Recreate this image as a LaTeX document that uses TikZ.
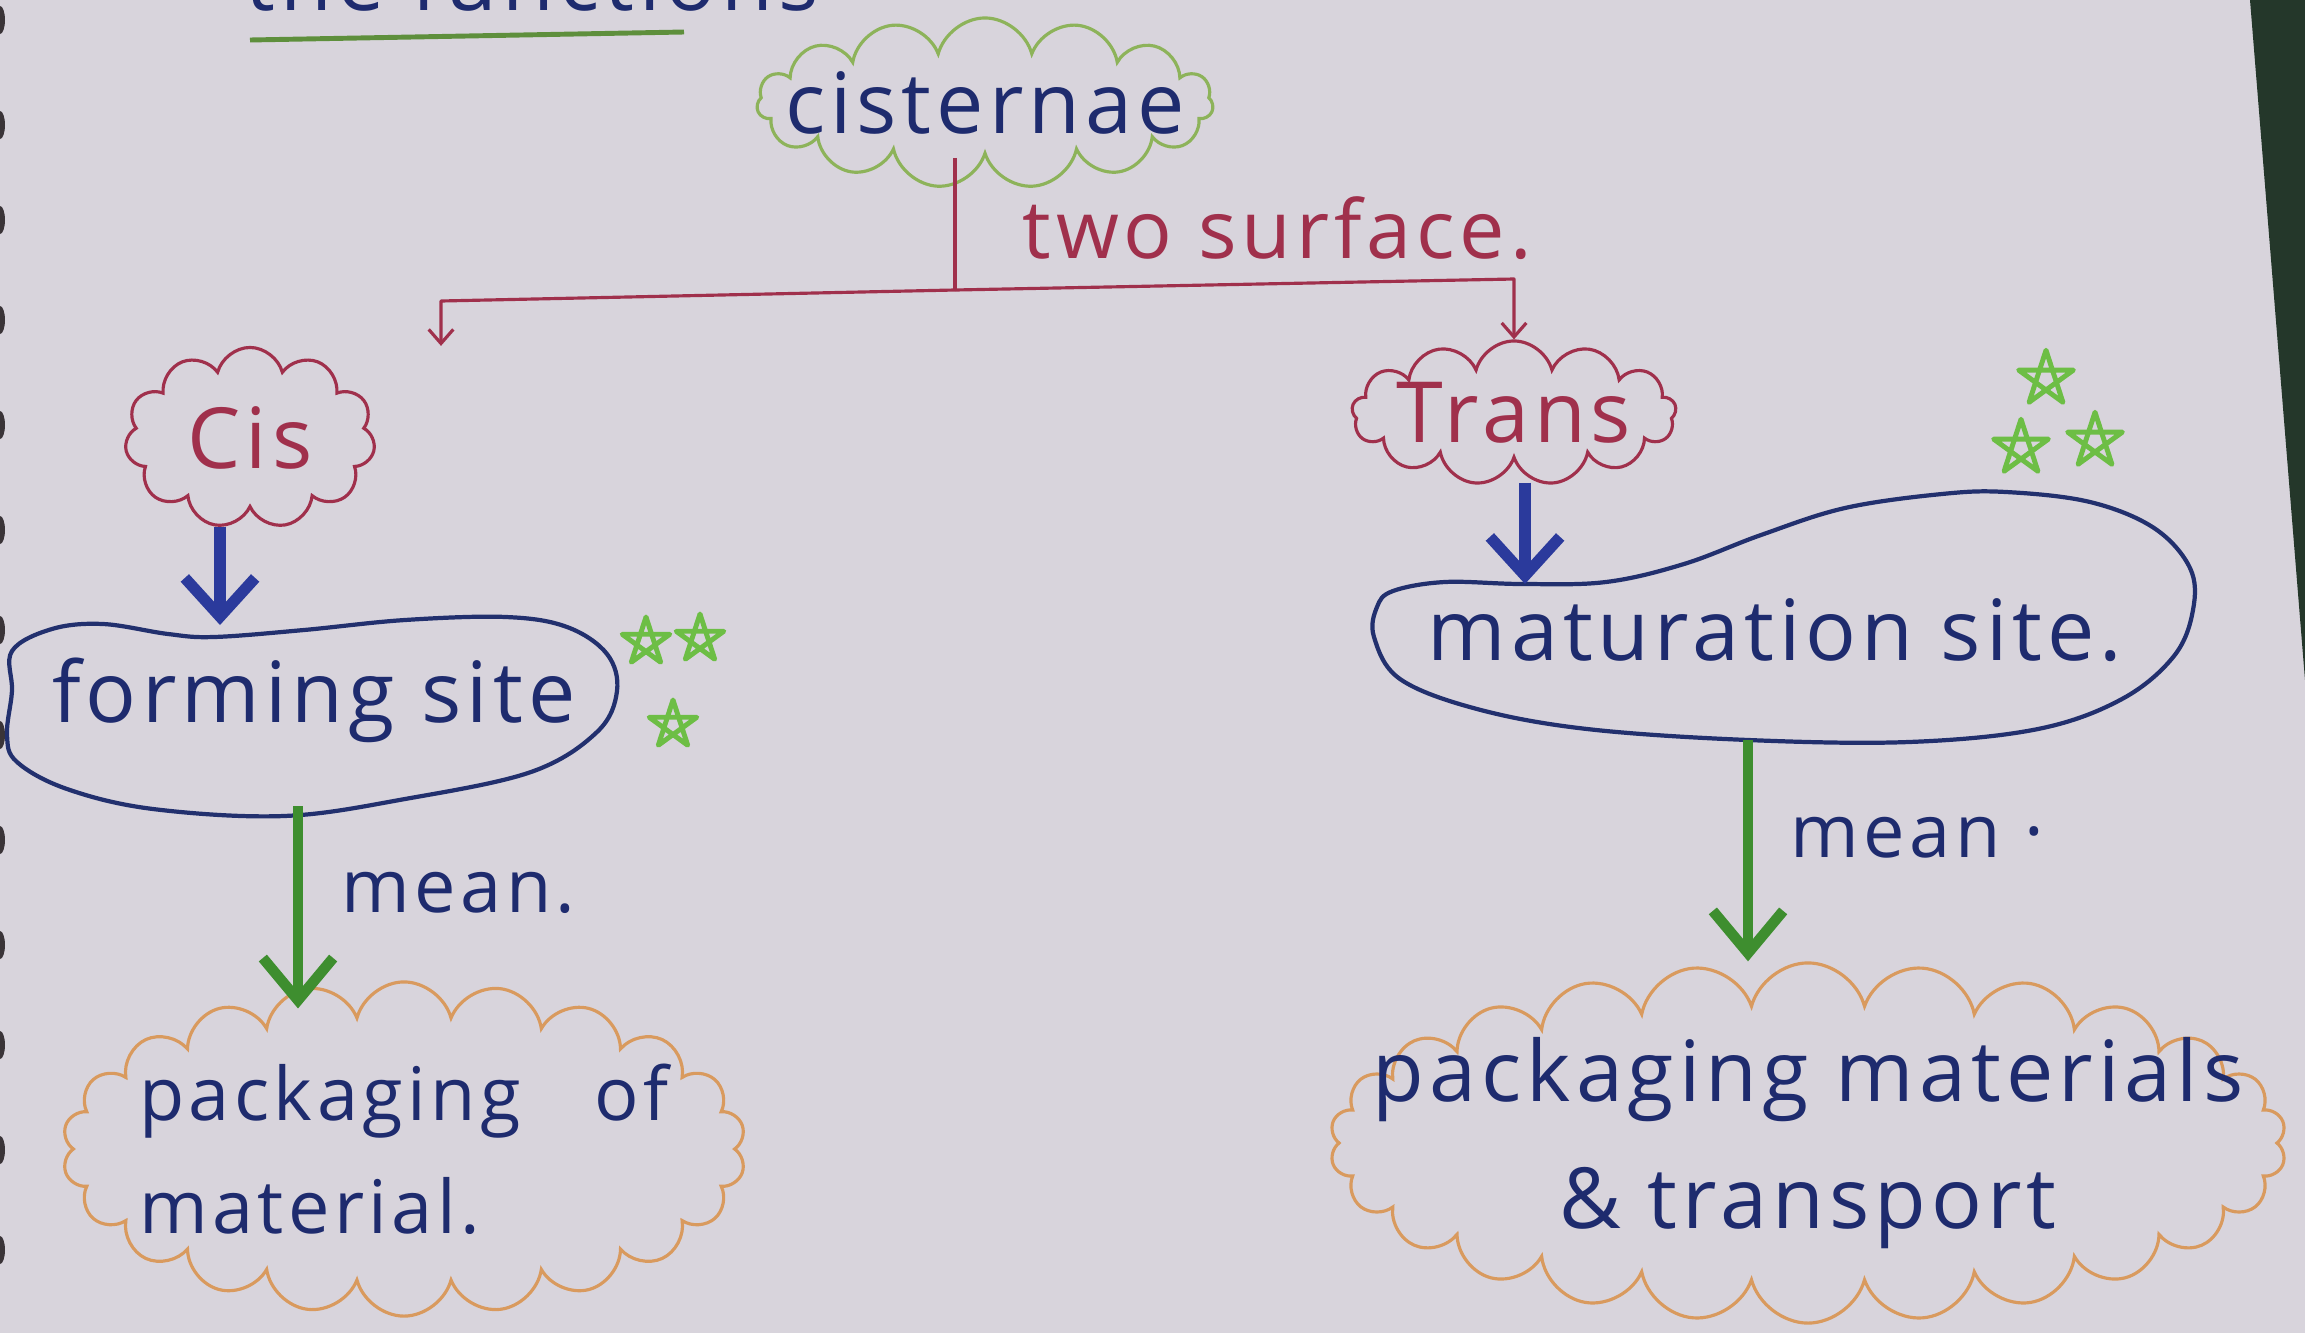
\documentclass[tikz,border=0pt]{standalone}
\usepackage{fontspec}
\setmainfont{Open Sans}[LetterSpace=6]
\usetikzlibrary{shapes.symbols,arrows.meta}

\definecolor{paper}{HTML}{D8D4DC}
\definecolor{ink}{HTML}{1E2B6E}
\definecolor{crimson}{HTML}{A0304C}
\definecolor{leaf}{HTML}{8DB35A}
\definecolor{underlinegreen}{HTML}{5E8F3C}
\definecolor{grass}{HTML}{3E8E2F}
\definecolor{starg}{HTML}{6DBE45}
\definecolor{peach}{HTML}{D99A5E}
\definecolor{pen}{HTML}{22306E}
\definecolor{royal}{HTML}{2B3A9C}
\definecolor{binding}{HTML}{3A3438}
\definecolor{backdrop}{HTML}{24372A}

\tikzset{
  puff/.style={cloud, cloud ignores aspect, draw, inner sep=0pt, line width=0.9pt},
  handtext/.style={font=\fontsize{24}{36}\selectfont, text=ink, inner sep=0pt},
  smallhand/.style={handtext, font=\fontsize{21}{32}\selectfont},
  blueflow/.style={draw=royal, line width=3.2pt, -{Straight Barb[length=11pt,width=20pt]}},
  greenflow/.style={draw=grass, line width=3pt, -{Straight Barb[length=12pt,width=20pt]}},
  redlink/.style={draw=crimson, line width=0.9pt, line join=round},
  redtip/.style={-{Straight Barb[length=4pt,width=7pt]}},
  blob/.style={draw=pen, line width=1.2pt},
  starmark/.pic={\draw[starg, line width=1.4pt, line join=round]
    (90:0.25cm) -- (234:0.25cm) -- (18:0.25cm) -- (162:0.25cm) -- (306:0.25cm) -- cycle;}
}

\begin{document}
\begin{tikzpicture}[x=0.01cm, y=-0.01cm]
  \useasboundingbox (0,0) rectangle (2305,1333);
  \clip (0,0) rectangle (2305,1333);

  % sheet of paper, the backdrop beyond its right edge, and the binding
  \fill[paper] (0,0) rectangle (2305,1333);
  \fill[backdrop] (2250,0) -- (2305,0) -- (2305,680) -- cycle;
  \foreach \yy in {20,125,220,320,425,530,630,735,840,945,1045,1150,1250}
    \fill[binding] (0,\yy) ellipse (5 and 14);

  % heading at the top of the sheet, running off the sheet's edge
  \node[handtext, anchor=base west] (heading) at (245,10) {the functions};
  \draw[underlinegreen, line width=1.4pt] (250,40) -- (684,32);

  % clouds
  \node[puff, draw=leaf, cloud puffs=15, minimum width=4.56cm, minimum height=1.7cm,
        label={[handtext]center:cisternae}] (cist) at (985,103) {};
  \node[puff, draw=crimson, cloud puffs=11, minimum width=2.5cm, minimum height=1.81cm,
        label={[handtext, text=crimson]center:Cis}] (cis) at (250,438) {};
  \node[puff, draw=crimson, cloud puffs=13, minimum width=3.24cm, minimum height=1.44cm,
        label={[handtext, text=crimson]center:Trans}] (trans) at (1514,413) {};
  \node[puff, draw=peach, cloud puffs=22, minimum width=6.83cm, minimum height=3.34cm,
        label={[smallhand, align=left]center:packaging\quad of\\material.}] (packL) at (404,1149) {};
  \node[puff, draw=peach, cloud puffs=26, minimum width=9.56cm, minimum height=3.6cm,
        label={[handtext, align=center]center:packaging materials\\\& transport}] (packR) at (1808,1143) {};

  % blobs around the two sites
  \draw[blob] plot[smooth cycle, tension=0.6] coordinates {
    (12,651) (52,629) (103,624) (168,634) (214,637) (304,630) (405,620) (506,617)
    (567,627) (607,654) (617,691) (597,732) (531,772) (405,799) (284,816) (153,809)
    (67,789) (17,762) (7,735) (12,691)};
  \node[handtext] (form) at (314,700) {forming site};
  \coordinate (formtop) at (220,625);
  \coordinate (formbot) at (298,806);

  \draw[blob] plot[smooth cycle, tension=0.6] coordinates {
    (1393,591) (1445,582) (1522,584) (1606,582) (1684,564) (1761,535) (1845,508)
    (1942,494) (2006,492) (2090,502) (2154,528) (2190,568) (2193,610) (2174,656)
    (2122,699) (2038,729) (1909,742) (1748,740) (1587,729) (1477,709) (1400,679)
    (1374,637) (1377,607)};
  \node[handtext] (matur) at (1775,630) {maturation site.};
  \coordinate (maturtop) at (1525,584);
  \coordinate (maturbot) at (1748,740);

  % stars
  \pic at (646,642) {starmark};
  \pic at (700,639) {starmark};
  \pic at (673,725) {starmark};
  \pic[scale=1.15] at (2046,379) {starmark};
  \pic[scale=1.15] at (2021,448) {starmark};
  \pic[scale=1.15] at (2095,441) {starmark};

  % red branching from the cisternae
  \coordinate (split) at (955,290);
  \coordinate (lefthook) at (441,301);
  \coordinate (righthook) at (1514,279);
  \draw[redlink] (split |- cist.south) -- (split);
  \draw[redlink, redtip] (split) -- (lefthook) -- (lefthook |- cis.north);
  \draw[redlink, redtip] (split) -- (righthook) -- (trans.north);
  \node[handtext, text=crimson, anchor=west, font=\fontsize{23}{30}\selectfont] (surf) at (1022,228) {two surface.};

  % blue arrows into the sites
  \draw[blueflow, shorten <=5pt] (cis.south -| formtop) -- (formtop);
  \draw[blueflow, shorten <=6pt] (trans.south -| maturtop) -- (maturtop);

  % green arrows into the packaging clouds
  \draw[greenflow, shorten >=-8pt] (formbot) -- (formbot |- packL.north);
  \draw[greenflow] (maturbot) -- (maturbot |- packR.north);
  \node[smallhand, anchor=west] (meanL) at (341,893) {mean.};
  \node[smallhand, anchor=west] (meanR) at (1790,838) {mean ·};
\end{tikzpicture}
\end{document}
